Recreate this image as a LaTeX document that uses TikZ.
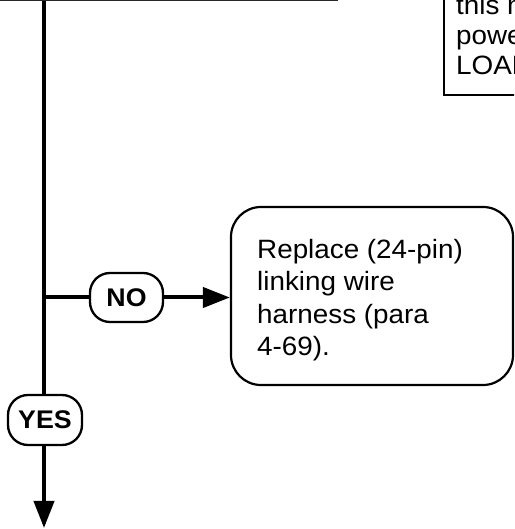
\documentclass[tikz,border=0pt]{standalone}
\usepackage{fontspec}
\setmainfont{Liberation Sans}[FakeStretch=1.05]
\usetikzlibrary{arrows.meta}
\begin{document}
\begin{tikzpicture}[x=1pt,y=1pt,
  flow/.style={line width=4pt},
  pill/.style={draw, line width=2.3pt, rounded corners=20pt, fill=white, font=\fontsize{25.5}{30}\selectfont\bfseries, inner sep=0pt},
  box/.style={draw, line width=2.2pt},
  body/.style={font=\fontsize{26.5}{32.5}\selectfont, inner sep=0pt},
  bigtip/.style={-{Triangle[length=27pt,width=20pt]}}
]
\useasboundingbox (0,0) rectangle (514,529);
\clip (0,0) rectangle (514,529);
% partially visible boxes at the top
\node[box, line width=2.6pt, draw=black!85, minimum width=400pt, minimum height=100pt, anchor=south east, inner sep=0pt] (top) at (338,527.5) {};
\node[box, minimum width=120pt, minimum height=140pt, anchor=south west, inner sep=0pt] (note) at (443,433) {};
\node[body, anchor=base west] (n1) at (456,514) {this n};
\node[body, anchor=base west] (n2) at (456,484) {powe};
\node[body, anchor=base west] (n3) at (456,454) {LOAD};
% decision labels
\node[pill, minimum width=73pt, minimum height=49pt] (no) at (126.5,231.5) {NO};
\node[pill, minimum width=74pt, minimum height=50pt] (yes) at (45,109) {YES};
% action box
\node[box, rounded corners=30pt, minimum width=282pt, minimum height=178pt, inner sep=0pt] (rbox) at (372,233) {};
\node[body, align=left, anchor=north west] (rtext) at (257,290) {Replace (24-pin)\\linking wire\\harness (para\\4-69).};
% connectors
\coordinate (j) at (44,231.5);
\coordinate (end) at (44,1);
\draw[flow] (top.south -| j) -- (yes.north -| j);
\draw[flow, bigtip] (yes.south -| j) -- (end);
\draw[flow] (j) -- (no.west);
\draw[flow, bigtip] (no.east) -- (no.east -| rbox.west);
\end{tikzpicture}
\end{document}
